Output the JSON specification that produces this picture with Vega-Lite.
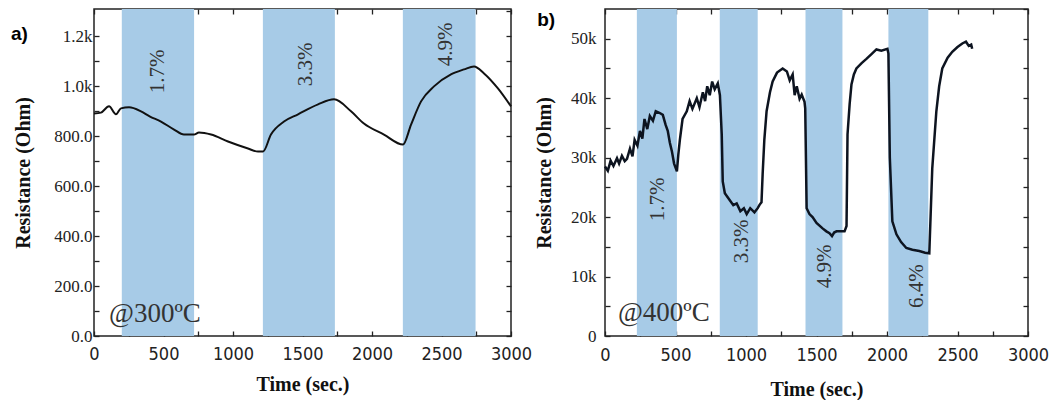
{
  "$schema": "https://vega.github.io/schema/vega-lite/v6.json",
  "background": "white",
  "padding": {"left": 10, "top": 7, "right": 5, "bottom": 0},
  "bounds": "flush",
  "spacing": 94,
  "datasets": {
    "bandsA": [
      {"t0": 200, "t1": 720, "gas": "1.7%"},
      {"t0": 1215, "t1": 1733, "gas": "3.3%"},
      {"t0": 2222, "t1": 2745, "gas": "4.9%"}
    ],
    "curveA": [
      {"t": 0, "v": 891}, {"t": 50, "v": 895}, {"t": 108, "v": 920}, {"t": 158, "v": 888},
      {"t": 194, "v": 912}, {"t": 252, "v": 916}, {"t": 338, "v": 900}, {"t": 400, "v": 880},
      {"t": 482, "v": 859}, {"t": 576, "v": 827}, {"t": 647, "v": 807}, {"t": 719, "v": 807},
      {"t": 755, "v": 815}, {"t": 842, "v": 807}, {"t": 964, "v": 779}, {"t": 1108, "v": 751},
      {"t": 1180, "v": 739}, {"t": 1216, "v": 739}, {"t": 1273, "v": 807}, {"t": 1367, "v": 859},
      {"t": 1468, "v": 888}, {"t": 1612, "v": 928}, {"t": 1727, "v": 948}, {"t": 1849, "v": 900},
      {"t": 1942, "v": 851}, {"t": 2086, "v": 807}, {"t": 2223, "v": 767}, {"t": 2281, "v": 847},
      {"t": 2353, "v": 940}, {"t": 2446, "v": 1000}, {"t": 2568, "v": 1048}, {"t": 2662, "v": 1068},
      {"t": 2734, "v": 1080}, {"t": 2806, "v": 1052}, {"t": 2906, "v": 992}, {"t": 3000, "v": 920}
    ],
    "labelsA": [
      {"t": 460, "v": 1060, "label": "1.7%"},
      {"t": 1525, "v": 1088, "label": "3.3%"},
      {"t": 2532, "v": 1168, "label": "4.9%"}
    ],
    "noteA": [
      {"t": 108, "v": 88, "label": "@300ºC"}
    ],
    "panelA": [
      {"t": -597, "v": 1209, "label": "a)"}
    ],
    "bandsB": [
      {"t0": 226, "t1": 510, "gas": "1.7%"},
      {"t0": 814, "t1": 1083, "gas": "3.3%"},
      {"t0": 1422, "t1": 1684, "gas": "4.9%"},
      {"t0": 2010, "t1": 2293, "gas": "6.4%"}
    ],
    "curveB": [
      {"t": 0, "v": 28500}, {"t": 20, "v": 27800}, {"t": 40, "v": 29500}, {"t": 60, "v": 28600},
      {"t": 85, "v": 29900}, {"t": 100, "v": 29000}, {"t": 120, "v": 30300}, {"t": 140, "v": 29400},
      {"t": 156, "v": 29800}, {"t": 177, "v": 31500}, {"t": 195, "v": 30200}, {"t": 210, "v": 33000},
      {"t": 230, "v": 32000}, {"t": 248, "v": 34500}, {"t": 265, "v": 33200}, {"t": 280, "v": 36500},
      {"t": 300, "v": 34800}, {"t": 318, "v": 37000}, {"t": 340, "v": 36200}, {"t": 360, "v": 37800},
      {"t": 389, "v": 37500}, {"t": 410, "v": 37200}, {"t": 430, "v": 35500}, {"t": 445, "v": 34500},
      {"t": 460, "v": 32500}, {"t": 475, "v": 31000}, {"t": 490, "v": 29000}, {"t": 510, "v": 27700},
      {"t": 520, "v": 30500}, {"t": 531, "v": 33000}, {"t": 550, "v": 36500}, {"t": 580, "v": 37800},
      {"t": 600, "v": 39500}, {"t": 620, "v": 38200}, {"t": 651, "v": 40000}, {"t": 670, "v": 38500},
      {"t": 694, "v": 41000}, {"t": 710, "v": 39500}, {"t": 725, "v": 42000}, {"t": 743, "v": 40500},
      {"t": 760, "v": 42800}, {"t": 778, "v": 41500}, {"t": 800, "v": 42500}, {"t": 815, "v": 40500},
      {"t": 828, "v": 33900}, {"t": 835, "v": 26000}, {"t": 850, "v": 24000}, {"t": 880, "v": 23000},
      {"t": 910, "v": 22000}, {"t": 934, "v": 22300}, {"t": 960, "v": 21000}, {"t": 985, "v": 21500},
      {"t": 1005, "v": 20500}, {"t": 1030, "v": 21500}, {"t": 1060, "v": 20800}, {"t": 1083, "v": 21500},
      {"t": 1097, "v": 22100}, {"t": 1110, "v": 22500}, {"t": 1118, "v": 27200}, {"t": 1130, "v": 33000},
      {"t": 1146, "v": 37800}, {"t": 1170, "v": 41000}, {"t": 1189, "v": 42800}, {"t": 1220, "v": 44300},
      {"t": 1260, "v": 45000}, {"t": 1290, "v": 44500}, {"t": 1310, "v": 43000}, {"t": 1331, "v": 44000},
      {"t": 1345, "v": 40500}, {"t": 1360, "v": 42000}, {"t": 1380, "v": 39900}, {"t": 1395, "v": 40600},
      {"t": 1415, "v": 39400}, {"t": 1420, "v": 38300}, {"t": 1425, "v": 30000}, {"t": 1430, "v": 21500},
      {"t": 1450, "v": 20500}, {"t": 1472, "v": 20000}, {"t": 1500, "v": 19000}, {"t": 1543, "v": 18100},
      {"t": 1570, "v": 17600}, {"t": 1592, "v": 17300}, {"t": 1610, "v": 16800}, {"t": 1625, "v": 17400},
      {"t": 1642, "v": 17600}, {"t": 1670, "v": 17600}, {"t": 1699, "v": 17600}, {"t": 1713, "v": 18500},
      {"t": 1720, "v": 33900}, {"t": 1735, "v": 39000}, {"t": 1748, "v": 42300}, {"t": 1765, "v": 44000},
      {"t": 1783, "v": 45000}, {"t": 1820, "v": 45900}, {"t": 1854, "v": 46600}, {"t": 1890, "v": 47400},
      {"t": 1925, "v": 48200}, {"t": 1960, "v": 48000}, {"t": 2003, "v": 48300}, {"t": 2010, "v": 47500},
      {"t": 2020, "v": 30000}, {"t": 2038, "v": 19300}, {"t": 2067, "v": 17100}, {"t": 2100, "v": 15800},
      {"t": 2137, "v": 14800}, {"t": 2180, "v": 14500}, {"t": 2229, "v": 14300}, {"t": 2270, "v": 14000},
      {"t": 2300, "v": 13900}, {"t": 2321, "v": 28200}, {"t": 2350, "v": 37800}, {"t": 2370, "v": 42000},
      {"t": 2392, "v": 45000}, {"t": 2430, "v": 46800}, {"t": 2463, "v": 47800}, {"t": 2500, "v": 48600},
      {"t": 2534, "v": 49200}, {"t": 2560, "v": 49500}, {"t": 2580, "v": 48800}, {"t": 2597, "v": 49000},
      {"t": 2604, "v": 48300}
    ],
    "labelsB": [
      {"t": 375, "v": 23000, "label": "1.7%"},
      {"t": 970, "v": 15900, "label": "3.3%"},
      {"t": 1557, "v": 11700, "label": "4.9%"},
      {"t": 2215, "v": 8400, "label": "6.4%"}
    ],
    "noteB": [
      {"t": 92, "v": 3900, "label": "@400ºC"}
    ],
    "panelB": [
      {"t": -481, "v": 53200, "label": "b)"}
    ]
  },
  "hconcat": [
    {
      "width": 417,
      "height": 327,
      "layer": [
        {
          "data": {"name": "bandsA"},
          "mark": {"type": "rect", "color": "#a7cbe7"},
          "encoding": {
            "x": {"field": "t0", "type": "quantitative", "scale": {"domain": [0, 3000], "nice": false, "zero": false},
                  "axis": {"orient": "top", "labels": false, "title": null, "values": [0,250,500,750,1000,1250,1500,1750,2000,2250,2500,2750,3000]}},
            "x2": {"field": "t1"}
          }
        },
        {
          "data": {"name": "curveA"},
          "mark": {"type": "line", "color": "#111", "strokeWidth": 2, "interpolate": "monotone"},
          "encoding": {
            "x": {"field": "t", "type": "quantitative", "scale": {"domain": [0, 3000], "nice": false, "zero": false},
                  "axis": {"orient": "bottom", "title": "Time (sec.)", "values": [0,250,500,750,1000,1250,1500,1750,2000,2250,2500,2750,3000],
                           "labelExpr": "datum.value % 500 == 0 ? datum.value : ''",
                           "labelFont": "Liberation Sans Narrow, DejaVu Sans Condensed, sans-serif", "labelFontSize": 18, "labelPadding": 14, "titlePadding": 11}},
            "y": {"field": "v", "type": "quantitative", "scale": {"domain": [0, 1310], "nice": false, "zero": false},
                  "axis": {"orient": "left", "title": "Resistance (Ohm)", "values": [0,100,200,300,400,500,600,700,800,900,1000,1100,1200],
                           "labelExpr": "datum.value % 200 != 0 ? '' : (datum.value >= 1000 ? format(datum.value/1000, '.1f') + 'k' : format(datum.value, '.1f'))",
                           "labelPadding": 7, "titlePadding": 20}}
          }
        },
        {
          "data": {"name": "labelsA"},
          "mark": {"type": "text", "angle": 270, "font": "Liberation Serif", "fontSize": 21, "color": "#333", "align": "center", "baseline": "middle"},
          "encoding": {
            "x": {"field": "t", "type": "quantitative", "axis": null, "scale": {"domain": [0, 3000], "nice": false, "zero": false}},
            "y": {"field": "v", "type": "quantitative", "scale": {"domain": [0, 1310], "nice": false, "zero": false},
                  "axis": {"orient": "right", "labels": false, "title": null, "values": [0,100,200,300,400,500,600,700,800,900,1000,1100,1200,1300]}},
            "text": {"field": "label"}
          }
        },
        {
          "data": {"name": "noteA"},
          "mark": {"type": "text", "font": "Liberation Serif", "fontSize": 27, "color": "#333", "align": "left", "baseline": "middle"},
          "encoding": {
            "x": {"field": "t", "type": "quantitative", "axis": null, "scale": {"domain": [0, 3000], "nice": false, "zero": false}},
            "y": {"field": "v", "type": "quantitative", "axis": null, "scale": {"domain": [0, 1310], "nice": false, "zero": false}},
            "text": {"field": "label"}
          }
        },
        {
          "data": {"name": "panelA"},
          "mark": {"type": "text", "font": "Liberation Sans", "fontWeight": "bold", "fontSize": 19, "color": "#000", "align": "left", "baseline": "middle"},
          "encoding": {
            "x": {"field": "t", "type": "quantitative", "axis": null, "scale": {"domain": [0, 3000], "nice": false, "zero": false}},
            "y": {"field": "v", "type": "quantitative", "axis": null, "scale": {"domain": [0, 1310], "nice": false, "zero": false}},
            "text": {"field": "label"}
          }
        }
      ],
      "resolve": {"axis": {"x": "independent", "y": "independent"}}
    },
    {
      "width": 423,
      "height": 327,
      "layer": [
        {
          "data": {"name": "bandsB"},
          "mark": {"type": "rect", "color": "#a7cbe7"},
          "encoding": {
            "x": {"field": "t0", "type": "quantitative", "scale": {"domain": [0, 3000], "nice": false, "zero": false},
                  "axis": {"orient": "top", "labels": false, "title": null, "values": [0,250,500,750,1000,1250,1500,1750,2000,2250,2500,2750,3000]}},
            "x2": {"field": "t1"}
          }
        },
        {
          "data": {"name": "curveB"},
          "mark": {"type": "line", "color": "#0d1420", "strokeWidth": 2.5},
          "encoding": {
            "x": {"field": "t", "type": "quantitative", "scale": {"domain": [0, 3000], "nice": false, "zero": false},
                  "axis": {"orient": "bottom", "title": "Time (sec.)", "values": [0,250,500,750,1000,1250,1500,1750,2000,2250,2500,2750,3000],
                           "labelExpr": "datum.value % 500 == 0 ? datum.value : ''",
                           "labelFont": "Liberation Sans Narrow, DejaVu Sans Condensed, sans-serif", "labelFontSize": 18, "labelPadding": 15, "titlePadding": 15}},
            "y": {"field": "v", "type": "quantitative", "scale": {"domain": [0, 55000], "nice": false, "zero": false},
                  "axis": {"orient": "left", "title": "Resistance (Ohm)", "values": [0,5000,10000,15000,20000,25000,30000,35000,40000,45000,50000],
                           "labelExpr": "datum.value % 10000 != 0 ? '' : (datum.value == 0 ? '0' : (datum.value/1000) + 'k')",
                           "labelPadding": 14, "titlePadding": 16}}
          }
        },
        {
          "data": {"name": "labelsB"},
          "mark": {"type": "text", "angle": 270, "font": "Liberation Serif", "fontSize": 21, "color": "#333", "align": "center", "baseline": "middle"},
          "encoding": {
            "x": {"field": "t", "type": "quantitative", "axis": null, "scale": {"domain": [0, 3000], "nice": false, "zero": false}},
            "y": {"field": "v", "type": "quantitative", "scale": {"domain": [0, 55000], "nice": false, "zero": false},
                  "axis": {"orient": "right", "labels": false, "title": null, "values": [0,5000,10000,15000,20000,25000,30000,35000,40000,45000,50000,55000]}},
            "text": {"field": "label"}
          }
        },
        {
          "data": {"name": "noteB"},
          "mark": {"type": "text", "font": "Liberation Serif", "fontSize": 27, "color": "#333", "align": "left", "baseline": "middle"},
          "encoding": {
            "x": {"field": "t", "type": "quantitative", "axis": null, "scale": {"domain": [0, 3000], "nice": false, "zero": false}},
            "y": {"field": "v", "type": "quantitative", "axis": null, "scale": {"domain": [0, 55000], "nice": false, "zero": false}},
            "text": {"field": "label"}
          }
        },
        {
          "data": {"name": "panelB"},
          "mark": {"type": "text", "font": "Liberation Sans", "fontWeight": "bold", "fontSize": 19, "color": "#000", "align": "left", "baseline": "middle"},
          "encoding": {
            "x": {"field": "t", "type": "quantitative", "axis": null, "scale": {"domain": [0, 3000], "nice": false, "zero": false}},
            "y": {"field": "v", "type": "quantitative", "axis": null, "scale": {"domain": [0, 55000], "nice": false, "zero": false}},
            "text": {"field": "label"}
          }
        }
      ],
      "resolve": {"axis": {"x": "independent", "y": "independent"}}
    }
  ],
  "config": {
    "view": {"stroke": "#222", "strokeWidth": 1.5},
    "axis": {
      "domain": false,
      "grid": false,
      "labelFlush": false,
      "labelOverlap": false,
      "tickColor": "#222",
      "tickSize": -5,
      "tickWidth": 1.3,
      "labelFont": "Liberation Serif",
      "labelFontSize": 17,
      "labelColor": "#222",
      "titleFont": "Liberation Serif",
      "titleFontWeight": "bold",
      "titleFontSize": 20,
      "titleColor": "#111"
    }
  }
}
